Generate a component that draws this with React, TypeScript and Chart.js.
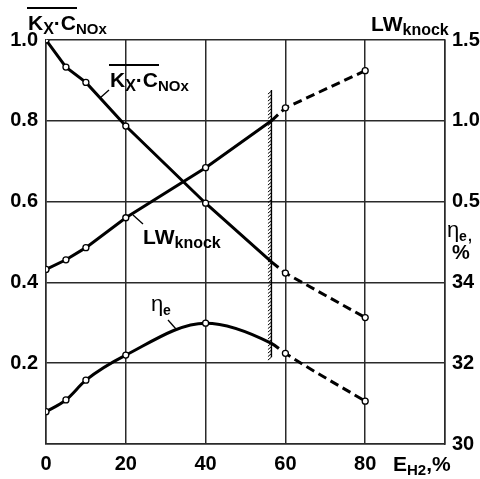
import React, { useEffect, useRef } from 'react';
import { Chart, registerables } from 'chart.js';
Chart.register(...registerables);

// ---- data ----
const xValues = [0, 5, 10, 20, 40, 60, 80];
const kcValues = [1.0, 0.933, 0.895, 0.787, 0.596, 0.423, 0.313];
const lwValues = [0.08, 0.14, 0.215, 0.4, 0.71, 1.08, 1.31];
const etaValues = [30.8, 31.09, 31.58, 32.2, 32.99, 32.245, 31.06];
const limitX = 56.5;
const kcAtLimit = 0.451;
const lwAtLimit = 1.0;
const etaAtLimit = 32.49;
const hatchFrom = 0.215;
const hatchTo = 0.876;
const rightTickLabels = ['30', '32', '34', '0.5', '1.0', '1.5'];

const FONT = '"Liberation Sans", Arial, sans-serif';

function buildSeries(values: number[], atLimit: number) {
  const pts: { x: number; y: number }[] = [];
  const radii: number[] = [];
  let inserted = false;
  xValues.forEach((x, i) => {
    if (!inserted && x > limitX) {
      pts.push({ x: limitX, y: atLimit });
      radii.push(0);
      inserted = true;
    }
    pts.push({ x, y: values[i] });
    radii.push(3);
  });
  return { pts, radii };
}

type Part = [string, number, number]; // text, size, dy
function drawRich(ctx: CanvasRenderingContext2D, x: number, y: number, parts: Part[], overlineCount = 0, overlineDy = -18) {
  let cx = x;
  let olEnd = x;
  parts.forEach((p, i) => {
    ctx.font = `bold ${p[1]}px ${FONT}`;
    ctx.fillText(p[0], cx, y + p[2]);
    cx += ctx.measureText(p[0]).width;
    if (i < overlineCount) olEnd = cx;
  });
  if (overlineCount > 0) {
    ctx.beginPath();
    ctx.lineWidth = 1.8;
    ctx.moveTo(x - 1, y + overlineDy);
    ctx.lineTo(olEnd + 1, y + overlineDy);
    ctx.stroke();
  }
  return cx;
}

const labelPlugin = {
  id: 'labels',
  afterDatasetsDraw(chart: any) {
    const ctx: CanvasRenderingContext2D = chart.ctx;
    const xs = chart.scales.x;
    const ys = chart.scales.y;
    ctx.save();
    ctx.fillStyle = '#000';
    ctx.strokeStyle = '#000';
    ctx.textBaseline = 'alphabetic';
    ctx.textAlign = 'left';

    // hatched limit line
    const hx = xs.getPixelForValue(limitX);
    const hy1 = ys.getPixelForValue(hatchTo);
    const hy2 = ys.getPixelForValue(hatchFrom);
    ctx.beginPath();
    ctx.lineWidth = 1.4;
    ctx.moveTo(hx, hy1);
    ctx.lineTo(hx, hy2);
    ctx.stroke();
    ctx.beginPath();
    ctx.lineWidth = 1;
    for (let y = hy1 + 1; y < hy2; y += 3.5) {
      ctx.moveTo(hx - 3.5, y + 3);
      ctx.lineTo(hx, y);
    }
    ctx.stroke();

    const kcParts: Part[] = [['K', 21, 0], ['X', 16, 4], ['\u00B7C', 21, 0], ['NOx', 15, 4]];
    // title top-left
    drawRich(ctx, 28, 30, kcParts, 3, -22);
    // inner K·C label
    drawRich(ctx, 110, 87, kcParts, 3, -22);
    ctx.beginPath();
    ctx.lineWidth = 1.3;
    ctx.moveTo(100, 98);
    ctx.lineTo(109, 90);
    ctx.stroke();

    // inner LW label
    drawRich(ctx, 143, 244, [['LW', 21, 0], ['knock', 16, 4]]);
    ctx.beginPath();
    ctx.moveTo(133, 215);
    ctx.lineTo(143, 224);
    ctx.stroke();

    // inner eta label
    ctx.font = `22px ${FONT}`;
    ctx.fillText('\u03B7', 151, 311);
    ctx.font = `bold 14px ${FONT}`;
    ctx.fillText('e', 163, 315);
    ctx.beginPath();
    ctx.moveTo(168, 320);
    ctx.lineTo(176, 329);
    ctx.stroke();

    // right title LW
    drawRich(ctx, 371, 31, [['LW', 21, 0], ['knock', 16, 4]]);

    // right eta,% label
    ctx.font = `22px ${FONT}`;
    ctx.fillText('\u03B7', 447, 237);
    ctx.font = `bold 14px ${FONT}`;
    ctx.fillText('e', 459, 241);
    ctx.fillText(',', 468, 241);
    ctx.font = `bold 20px ${FONT}`;
    ctx.fillText('%', 452, 259);

    // x axis title
    drawRich(ctx, 393, 471, [['E', 21, 0], ['H', 15, 4], ['2', 15, 4], [',%', 21, 0]]);
    ctx.restore();
  },
};

export default function App() {
  const ref = useRef<HTMLCanvasElement | null>(null);
  useEffect(() => {
    document.body.style.margin = '0';
    const canvas = ref.current;
    if (!canvas) return;
    const kc = buildSeries(kcValues, kcAtLimit);
    const lw = buildSeries(lwValues, lwAtLimit);
    const eta = buildSeries(etaValues, etaAtLimit);
    const seg = { borderDash: (c: any) => (c.p0.parsed.x >= limitX - 0.01 ? [9, 5] : undefined) };
    const common = {
      borderColor: '#000',
      borderWidth: 3,
      pointBackgroundColor: '#fff',
      pointBorderColor: '#000',
      pointBorderWidth: 1.3,
      fill: false,
      segment: seg,
    };
    const tickFont = { family: FONT, size: 20, weight: 'bold' as const };
    const gridColor = '#2a2a2a';
    const chart = new Chart(canvas, {
      type: 'line',
      data: {
        datasets: [
          { ...common, data: kc.pts, pointRadius: kc.radii, yAxisID: 'y', tension: 0 },
          { ...common, data: lw.pts, pointRadius: lw.radii, yAxisID: 'yLW', tension: 0 },
          { ...common, data: eta.pts, pointRadius: eta.radii, yAxisID: 'yEta', cubicInterpolationMode: 'monotone' },
        ] as any,
      },
      options: {
        animation: false,
        responsive: false,
        devicePixelRatio: 1,
        layout: { padding: { top: 40, left: 0, right: 0, bottom: 0 } },
        plugins: { legend: { display: false }, tooltip: { enabled: false } },
        scales: {
          x: {
            type: 'linear',
            min: 0,
            max: 100,
            ticks: {
              stepSize: 20,
              color: '#000',
              font: tickFont,
              padding: 8,
              maxRotation: 0,
              callback: (v: any) => (v === 100 ? '' : String(v)),
            },
            grid: { color: gridColor, lineWidth: 1.5, drawTicks: false },
            border: { color: gridColor, width: 1.5 },
            afterFit: (s: any) => {
              s.height = 35;
            },
          },
          y: {
            position: 'left',
            min: 0,
            max: 1,
            ticks: {
              stepSize: 0.2,
              color: '#000',
              font: tickFont,
              padding: 8,
              callback: (v: any) => (Math.abs(v) < 1e-9 ? '' : Number(v).toFixed(1)),
            },
            grid: { color: gridColor, lineWidth: 1.5, drawTicks: false },
            border: { color: gridColor, width: 1.5 },
            afterFit: (s: any) => {
              s.width = 46;
            },
          },
          yR: {
            position: 'right',
            min: 0,
            max: 1,
            ticks: {
              stepSize: 0.2,
              color: '#000',
              font: tickFont,
              padding: 7,
              callback: (_v: any, i: number) => rightTickLabels[i],
            },
            grid: { drawOnChartArea: false, drawTicks: false },
            border: { color: gridColor, width: 1.5 },
            afterFit: (s: any) => {
              s.width = 35;
            },
          },
          yLW: { display: false, min: -1, max: 1.5 },
          yEta: { display: false, min: 30, max: 40 },
        },
      } as any,
      plugins: [labelPlugin],
    });
    return () => chart.destroy();
  }, []);
  return (
    <div style={{ width: 480, height: 479, background: '#fff' }}>
      <canvas ref={ref} width={480} height={479} />
    </div>
  );
}
